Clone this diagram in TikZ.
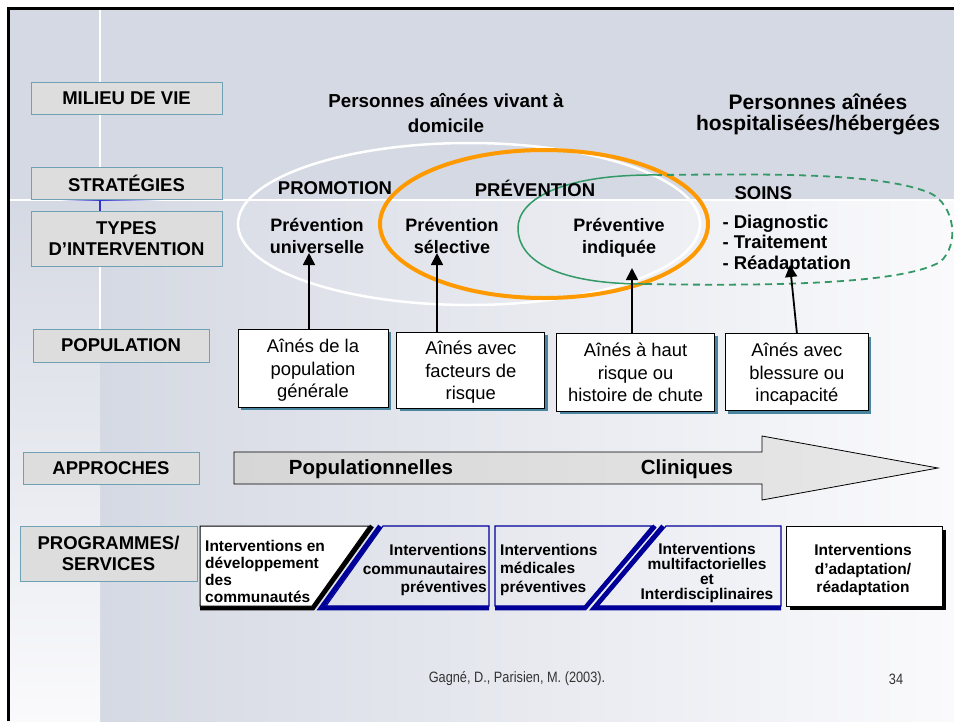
\documentclass[tikz,border=0pt]{standalone}
\usepackage{fontspec}
\setmainfont{Liberation Sans}
\newfontfamily\narrowfont[FakeStretch=0.85]{Liberation Sans}
\usepackage{tikz}
\usetikzlibrary{arrows.meta, positioning, shadows}
\definecolor{slidegray}{HTML}{D5D9E3}
\definecolor{slidelight}{HTML}{FAFAFC}
\definecolor{accentblue}{HTML}{3333CC}
\definecolor{labelfill}{HTML}{DDDDDD}
\definecolor{labeledge}{HTML}{6FA0B4}
\definecolor{popshadow}{HTML}{4A85A0}
\definecolor{ringorange}{HTML}{FF9900}
\definecolor{ringgreen}{HTML}{339966}
\definecolor{progblue}{HTML}{000099}
\definecolor{arrowleft}{HTML}{D6D6D6}
\definecolor{arrowright}{HTML}{E8E8E8}
\definecolor{footgray}{HTML}{333333}
\newcommand*{\fs}[2]{\fontsize{#1}{#2}\selectfont}
\newcommand*{\popup}{\rule{0pt}{18.5pt}}
\newcommand*{\popdown}{\rule[-4.5pt]{0pt}{4.5pt}}
\tikzstyle{rowlabel} = [draw=labeledge, fill=labelfill, line width=1pt, align=center, inner sep=0pt, font=\fs{18.5}{20.5}\bfseries]
\tikzstyle{popbox} = [draw=black, fill=white, line width=0.8pt, align=center, inner sep=0pt, font=\fs{18.4}{22.5},
    drop shadow={shadow xshift=3pt, shadow yshift=-3pt, fill=popshadow, opacity=1}]
\tikzstyle{typetext} = [align=center, font=\fs{18}{22}\bfseries]
\tikzstyle{heading} = [align=center, font=\fs{18.5}{20.5}\bfseries]
\tikzstyle{progtext} = [inner sep=0pt, font=\fs{15.5}{18.5}\bfseries]
\tikzstyle{progedge} = [line width=4.5pt]
\tikzstyle{pointer} = [-{Triangle[length=12pt, width=12pt]}, line width=1.8pt]

\begin{document}
\begin{tikzpicture}[x=1pt, y=-1pt]
    \useasboundingbox (0,0) rectangle (954,721);

    % Slide background.
    \fill [white] (0,0) rectangle (954,721);
    \fill [slidegray] (8,8) rectangle (954,721);
    \shade [left color=slidegray, right color=slidelight] (100,200) rectangle (954,721);
    \shade [top color=slidegray, bottom color=slidelight] (8,200) rectangle (100,721);
    \draw [white, line width=1.5pt] (100,8) -- (100,330);
    \draw [white, line width=2pt] (8,200) -- (954,200);
    \shade [left color=white, right color=accentblue] (60,199.3) rectangle (100,200.7);
    \shade [left color=accentblue, right color=white] (100,199.3) rectangle (160,200.7);
    \draw [accentblue, line width=1.5pt] (100,200) -- (100,211);
    \draw [line width=3pt] (8.5,721) -- (8.5,8.5) -- (954,8.5);

    % Rings.
    \draw [white, line width=2.5pt] (469,224) ellipse [x radius=231pt, y radius=81pt];
    \draw [ringorange, line width=4pt] (544,224) ellipse [x radius=164pt, y radius=74pt];
    \draw [ringgreen, line width=1.5pt] (658,175) .. controls (560,174) and (518,200) .. (518,228)
        .. controls (518,262) and (560,284) .. (645,284);
    \draw [ringgreen, line width=1.8pt, dash pattern=on 7pt off 5pt] (645,284)
        .. controls (760,286) and (900,285) .. (940,262)
        .. controls (960,245) and (955,205) .. (930,193)
        .. controls (880,172) and (760,174) .. (658,175);

    % Row labels.
    \node (milieu) [rowlabel, minimum width=191pt, minimum height=32pt] at (126.5,98) {MILIEU DE VIE};
    \node (strat) [rowlabel, minimum width=191pt, minimum height=32pt] at (126.5,183) {STRATÉGIES};
    \node (types) [rowlabel, minimum width=191pt, minimum height=55pt] at (126.5,238.5) {TYPES\\D’INTERVENTION};
    \node (popu) [rowlabel, minimum width=176pt, minimum height=33pt] at (121,345.5) {POPULATION};
    \node (appr) [rowlabel, minimum width=176pt, minimum height=32pt] at (111,468) {APPROCHES};
    \node (prog) [rowlabel, minimum width=177pt, minimum height=55pt] at (108.5,553.5) {PROGRAMMES/\\SERVICES};

    % Living places.
    \node (home) [align=center, font=\fs{18.8}{25}\bfseries] at (446,113.5) {Personnes aînées vivant à\\domicile};
    \node (hosp) [align=center, font=\fs{21}{21}\bfseries] at (818,114.5) {Personnes aînées\\hospitalisées/hébergées};

    % Strategies and intervention types.
    \node (promo) [heading] at (335,188) {PROMOTION};
    \node (prev) [heading] at (535,188) {PRÉVENTION};
    \node (soins) [heading, anchor=west] at (731,193.5) {SOINS};
    \node (type1) [typetext] at (317,236) {Prévention\\universelle};
    \node (type2) [typetext] at (452,236) {Prévention\\sélective};
    \node (type3) [typetext] at (619,238) {Préventive\\indiquée};
    \node (type4) [heading, anchor=west, align=left] at (719,244) {- Diagnostic\\- Traitement\\- Réadaptation};

    % Populations.
    \node (pop1) [popbox, minimum width=150pt, minimum height=78pt] at (313,368) {\popup Aînés de la\\population\\générale\popdown};
    \node (pop2) [popbox, minimum width=148pt, minimum height=76pt, right=8pt of pop1, yshift=-2pt] {\popup Aînés avec\\facteurs de\\risque\popdown};
    \node (pop3) [popbox, minimum width=158pt, minimum height=78pt, right=11pt of pop2, yshift=-2pt] {\popup Aînés à haut\\risque ou\\histoire de chute\popdown};
    \node (pop4) [popbox, minimum width=143pt, minimum height=77pt, right=10pt of pop3] {\popup Aînés avec\\blessure ou\\incapacité\popdown};

    % Arrows.
    \foreach \i/\tx/\ty in {1/309/253, 2/437/253, 3/632/268} {
        \coordinate (tip\i) at (\tx,\ty);
        \draw [pointer] (pop\i.north -| tip\i) -- (tip\i);
    }
    \coordinate (tip4) at (790,265);
    \draw [pointer] (pop4.north) -- (tip4);

    % Approaches.
    \draw [line width=0.8pt, left color=arrowleft, right color=arrowright] (234,452) -- (762,452) -- (762,436)
        -- (938,468) -- (762,500) -- (762,484) -- (234,484) -- cycle;
    \node (popul) [font=\fs{20.5}{24}\bfseries] at (371,469) {Populationnelles};
    \node (clin) [font=\fs{20.5}{24}\bfseries] at (687,469) {Cliniques};

    % Programmes and services.
    \draw [progedge] (372,526) -- (313,608) -- (200,608);
    \draw [fill=white, line width=1pt] (200,526) -- (369,526) -- (312,606) -- (200,606) -- cycle;
    \draw [progedge, progblue] (380,526) -- (321,608) -- (489,608);
    \draw [progblue, line width=1.2pt] (383,526) -- (489,526) -- (489,606) -- (326,606) -- cycle;
    \draw [progedge, progblue] (655,526) -- (585,608) -- (495,608);
    \draw [progblue, line width=1.2pt] (495,526) -- (652,526) -- (585,606) -- (495,606) -- cycle;
    \draw [progedge, progblue] (663,526) -- (594,608) -- (781,608);
    \draw [progblue, line width=1.2pt] (666,526) -- (781,526) -- (781,606) -- (598,606) -- cycle;
    \fill (790,530) rectangle (946,610);
    \draw [fill=white, line width=1pt] (786,526) rectangle (942,606);

    \node (prog1) [progtext, anchor=west, align=left, font=\fs{15.5}{17}\bfseries] at (205,571) {Interventions en\\développement\\des\\communautés};
    \node (prog2) [progtext, anchor=east, align=right] at (487,570) {Interventions\\communautaires\\préventives};
    \node (prog3) [progtext, anchor=west, align=left] at (500,569.5) {Interventions\\médicales\\préventives};
    \node (prog4) [progtext, align=center, font=\fs{15.5}{14.7}\bfseries] at (707,573) {Interventions\\multifactorielles\\et\\Interdisciplinaires};
    \node (prog5) [progtext, align=center] at (863,570) {Interventions\\d’adaptation/\\réadaptation};

    % Footer.
    \node (cite) [font=\narrowfont\fs{15}{18}, text=footgray] at (517,679) {Gagné, D., Parisien, M. (2003).};
    \node (page) [font=\narrowfont\fs{15}{18}, text=footgray] at (896,679) {34};
\end{tikzpicture}
\end{document}
